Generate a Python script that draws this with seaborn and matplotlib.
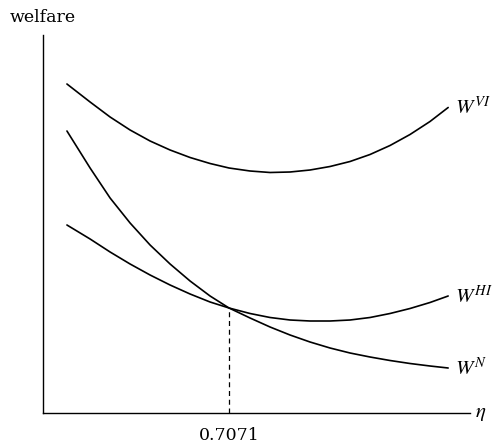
import matplotlib
matplotlib.use("Agg")
import matplotlib.pyplot as plt
import pandas as pd
import seaborn as sns

# eta grid
eta = [0.091, 0.179, 0.255, 0.331, 0.407, 0.483, 0.559, 0.635, 0.7071, 0.787,
       0.863, 0.939, 1.015, 1.091, 1.167, 1.243, 1.319, 1.395, 1.471, 1.540]

# welfare curves (arbitrary units)
w_vi = [3.29, 3.11, 2.96, 2.83, 2.72, 2.63, 2.555, 2.495, 2.45, 2.42,
        2.405, 2.41, 2.43, 2.465, 2.515, 2.585, 2.675, 2.785, 2.915, 3.055]
w_hi = [1.88, 1.74, 1.61, 1.49, 1.38, 1.28, 1.19, 1.11, 1.05, 0.995,
        0.955, 0.93, 0.92, 0.92, 0.93, 0.955, 0.995, 1.045, 1.105, 1.17]
w_n = [2.82, 2.45, 2.15, 1.90, 1.68, 1.49, 1.32, 1.17, 1.05, 0.95,
       0.86, 0.78, 0.71, 0.65, 0.60, 0.56, 0.525, 0.495, 0.47, 0.45]

series_names = ["VI", "HI", "N"]
series_labels = [r"$W^{VI}$", r"$W^{HI}$", r"$W^{N}$"]
eta_star = 0.7071
w_star = 1.05


def main():
    sns.set_style("white")
    plt.rcParams["font.family"] = ["DejaVu Serif"]
    plt.rcParams["mathtext.fontset"] = "stix"
    plt.rcParams["text.color"] = "black"
    plt.rcParams["xtick.color"] = "black"

    df = pd.DataFrame({
        "eta": eta * 3,
        "welfare": w_vi + w_hi + w_n,
        "curve": [s for s in series_names for _ in eta],
    })

    fig = plt.figure(figsize=(5.04, 4.48), dpi=100)
    ax = fig.add_axes([43 / 504, 35 / 448, 427 / 504, 378 / 448])

    sns.lineplot(data=df, x="eta", y="welfare", units="curve", estimator=None,
                 color="black", linewidth=1.2, legend=False, ax=ax)

    # dashed drop line at the crossing point
    ax.plot([eta_star, eta_star], [0, w_star], color="black",
            linestyle=(0, (4, 3)), linewidth=0.9)

    # curve labels at the right ends
    for name, lab in zip(series_names, series_labels):
        yend = df[df["curve"] == name]["welfare"].iloc[-1]
        ax.annotate(lab, xy=(eta[-1], yend), xytext=(5, 0),
                    textcoords="offset points", ha="left", va="center",
                    fontsize=15)

    ax.set_xlim(0, 1.623)
    ax.set_ylim(0, 3.78)
    ax.set_xticks([eta_star])
    ax.set_xticklabels(["0.7071"], fontsize=12.5)
    ax.set_yticks([])
    ax.tick_params(axis="x", length=0, pad=10)
    ax.set_xlabel("")
    ax.set_ylabel("")
    for side in ["top", "right"]:
        ax.spines[side].set_visible(False)
    for side in ["left", "bottom"]:
        ax.spines[side].set_color("black")
        ax.spines[side].set_linewidth(1.0)

    ax.text(1.012, 0.0, r"$\eta$", transform=ax.transAxes, ha="left",
            va="center", fontsize=15)
    ax.text(0.0, 1.025, "welfare", transform=ax.transAxes, ha="center",
            va="bottom", fontsize=12.5)

    fig.savefig("out.png", dpi=100)


if __name__ == "__main__":
    main()
